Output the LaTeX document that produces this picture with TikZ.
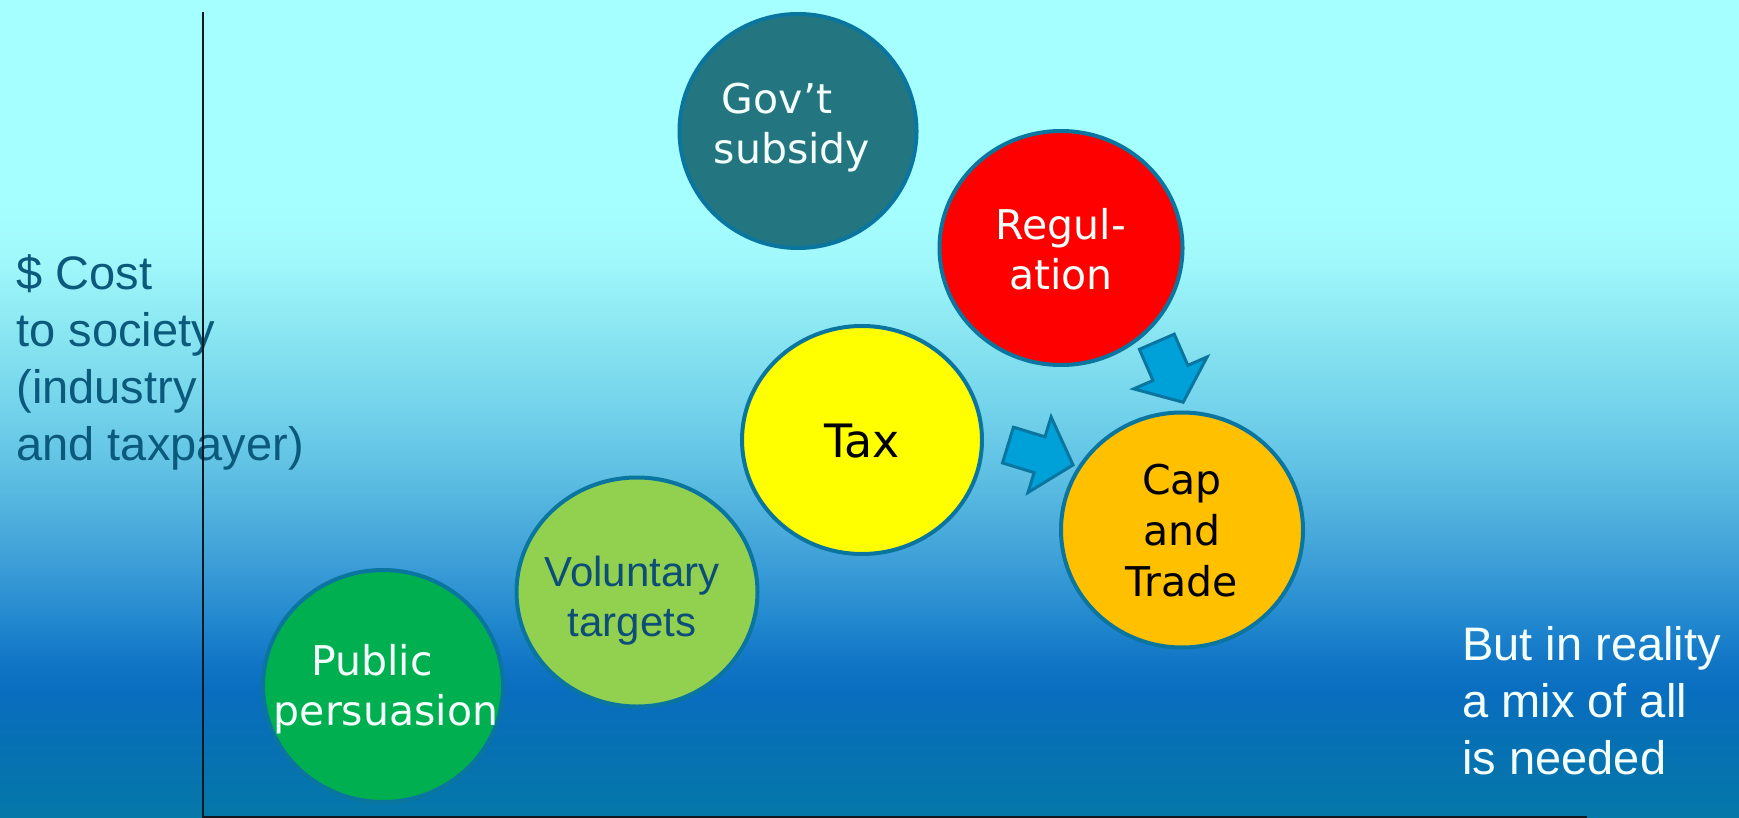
\documentclass[tikz,border=0pt]{standalone}
\usepackage{fontspec}
\setmainfont{Liberation Sans}
\newfontfamily\bubblefont{DejaVu Sans}
\usetikzlibrary{shapes.geometric}

% palette
\definecolor{bgA}{HTML}{A6FFFF}
\definecolor{bgB}{HTML}{A0F8FB}
\definecolor{bgC}{HTML}{8AE6F1}
\definecolor{bgD}{HTML}{70D0EA}
\definecolor{bgE}{HTML}{5CBDE2}
\definecolor{bgF}{HTML}{3E9FD8}
\definecolor{bgG}{HTML}{2288CE}
\definecolor{bgH}{HTML}{1276C6}
\definecolor{bgI}{HTML}{0A6EC0}
\definecolor{bgJ}{HTML}{0670B4}
\definecolor{bgK}{HTML}{0578A8}
\definecolor{rimblue}{HTML}{0A76A0}
\definecolor{arrowfill}{HTML}{00A0D8}
\definecolor{govteal}{HTML}{237680}
\definecolor{regred}{HTML}{FF0000}
\definecolor{taxyellow}{HTML}{FFFF00}
\definecolor{capamber}{HTML}{FFC000}
\definecolor{volgreen}{HTML}{92D050}
\definecolor{pubgreen}{HTML}{00B050}
\definecolor{softwhite}{HTML}{F4FFFB}
\definecolor{labelblue}{HTML}{0B5A7C}
\definecolor{voltext}{HTML}{0D4E78}
\definecolor{axisblack}{HTML}{111820}

\begin{document}
\begin{tikzpicture}[x=0.5pt,y=0.5pt,
  bubble/.style={ellipse, draw=rimblue, line width=2pt, inner sep=0pt},
  bubbletext/.style={font=\bubblefont\fontsize{20.5}{25}\selectfont, align=center, inner sep=0pt},
  sidetext/.style={font=\fontsize{23.5}{28.5}\selectfont, align=left, inner sep=0pt, anchor=west},
  blockarrow/.style={fill=arrowfill, draw=rimblue, line width=1.5pt, line join=miter},
  axisline/.style={draw=axisblack, line width=1pt}]

\useasboundingbox (0,0) rectangle (1739,-818);

% background: vertical gradient built from stacked bands
\foreach \ya/\yb/\ca/\cb in {0/200/bgA/bgA, 200/260/bgA/bgB, 260/330/bgB/bgC,
    330/420/bgC/bgD, 420/480/bgD/bgE, 480/560/bgE/bgF, 560/620/bgF/bgG,
    620/660/bgG/bgH, 660/690/bgH/bgI, 690/740/bgI/bgJ, 740/818/bgJ/bgK}
  \shade[top color=\ca, bottom color=\cb] (0,-\ya) rectangle (1739,{-\yb-1});

% policy bubbles
\node[bubble, fill=govteal, minimum width=118.5pt, minimum height=117pt] (govt) at (798,-131) {};
\node[bubble, fill=regred, minimum width=121.5pt, minimum height=117pt] (reg) at (1061,-248) {};
\node[bubble, fill=taxyellow, minimum width=120pt, minimum height=114pt] (tax) at (862,-440) {};
\node[bubble, fill=capamber, minimum width=121pt, minimum height=117.5pt] (cap) at (1182,-530) {};
\node[bubble, fill=volgreen, minimum width=120.5pt, minimum height=114.5pt] (vol) at (637,-592) {};
\node[bubble, fill=pubgreen, minimum width=120pt, minimum height=116pt] (pub) at (383,-686) {};

% bubble captions
\node[bubbletext, text=softwhite] (govt-t) at (792,-127.5) {Gov’t\kern15pt\\subsidy};
\node[bubbletext, text=softwhite] (reg-t) at (1061,-249.5) {Regul-\\ation};
\node[bubbletext, text=black, font=\bubblefont\fontsize{23}{28}\selectfont] (tax-t) at (862,-441) {Tax};
\node[bubbletext, text=black, font=\bubblefont\fontsize{20.5}{25.5}\selectfont] (cap-t) at (1182,-531) {Cap\\and\\Trade};
\node[bubbletext, text=voltext, font=\fontsize{21}{25}\selectfont] (vol-t) at (632,-601) {Voluntary\\targets};
\node[bubbletext, text=softwhite] (pub-t) at (386,-689.5) {Public\kern14pt\\persuasion};

% block arrows feeding into cap and trade
\coordinate (regarrow) at (1170,-372);
\coordinate (taxarrow) at (1040.5,-455);
\begin{scope}[shift={(regarrow)}, rotate=-66.5]
  \draw[blockarrow] (-33,-19) -- (1,-19) -- (1,-40) -- (33,0) -- (1,40) -- (1,19) -- (-33,19) -- cycle;
\end{scope}
\begin{scope}[shift={(taxarrow)}, rotate=-17]
  \draw[blockarrow] (-34,-18.7) -- (-1,-18.7) -- (-1,-39.5) -- (34,0) -- (-1,39.5) -- (-1,18.7) -- (-34,18.7) -- cycle;
\end{scope}

% side notes
\node[sidetext, text=labelblue] (costlabel) at (16,-362) {\$ Cost\\to society\\(industry\\and taxpayer)};
\node[sidetext, text=softwhite] (mixnote) at (1462,-701) {But in reality\\a mix of all\\is needed};

% axes
\coordinate (axtop) at (203,-12);
\coordinate (axorigin) at (203,-818);
\coordinate (axend) at (1587,-817);
\draw[axisline] (axtop) -- (axorigin);
\draw[axisline] (axorigin |- axend) -- (axend);
\end{tikzpicture}
\end{document}
